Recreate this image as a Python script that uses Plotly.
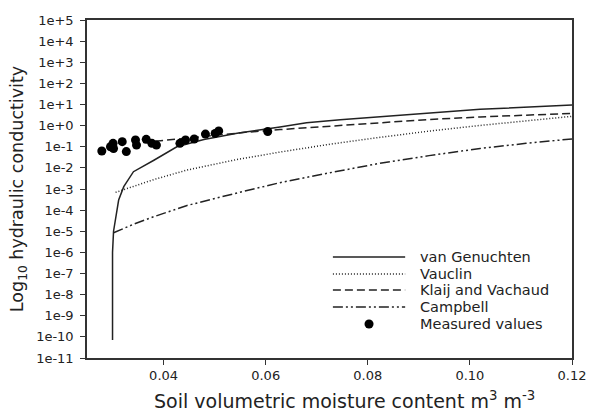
import plotly.graph_objects as go

# ---- data ----
vg_x = [0.0300, 0.0300, 0.0302, 0.0306, 0.0312, 0.0322, 0.0341, 0.0381, 0.0426, 0.0479, 0.0544, 0.0628, 0.0680, 0.0746, 0.0889, 0.1020, 0.1200]
vg_k = [7.1e-11, 1e-6, 1e-5, 4.9e-5, 3.0e-4, 1.29e-3, 6.6e-3, 2.3e-2, 0.10, 0.22, 0.44, 0.87, 1.38, 1.9, 3.55, 5.9, 9.5]

vau_x = [0.0306, 0.0340, 0.0381, 0.0446, 0.0544, 0.0628, 0.0726, 0.0824, 0.0920, 0.1020, 0.1110, 0.1200]
vau_k = [6.9e-4, 1.32e-3, 2.8e-3, 7.9e-3, 2.5e-2, 5.6e-2, 0.132, 0.28, 0.55, 1.02, 1.74, 2.75]

kv_x = [0.0360, 0.0430, 0.0500, 0.0560, 0.0628, 0.0726, 0.0824, 0.0920, 0.1020, 0.1110, 0.1200]
kv_k = [0.16, 0.24, 0.355, 0.48, 0.65, 0.95, 1.41, 1.95, 2.57, 3.16, 3.8]

camp_x = [0.0302, 0.0340, 0.0381, 0.0446, 0.0544, 0.0628, 0.0726, 0.0824, 0.0920, 0.1020, 0.1110, 0.1200]
camp_k = [8.5e-6, 2.09e-5, 4.9e-5, 1.66e-4, 6.5e-4, 2.0e-3, 5.9e-3, 1.66e-2, 3.8e-2, 8.3e-2, 0.145, 0.234]

meas_x = [0.0279, 0.0296, 0.0301, 0.0302, 0.0319, 0.0327, 0.0345, 0.0347, 0.0366, 0.0377,
          0.0386, 0.0432, 0.0443, 0.0460, 0.0482, 0.0501, 0.0508, 0.0604]
meas_k = [0.063, 0.10, 0.145, 0.083, 0.174, 0.059, 0.209, 0.120, 0.224, 0.145,
          0.120, 0.145, 0.209, 0.234, 0.398, 0.427, 0.562, 0.525]

series_names = ["van Genuchten", "Vauclin", "Klaij and Vachaud", "Campbell", "Measured values"]

y_tick_vals = [1e5, 1e4, 1e3, 1e2, 1e1, 1e0, 1e-1, 1e-2, 1e-3, 1e-4, 1e-5, 1e-6, 1e-7, 1e-8, 1e-9, 1e-10, 1e-11]
y_tick_text = ["1e+5", "1e+4", "1e+3", "1e+2", "1e+1", "1e+0", "1e-1", "1e-2", "1e-3", "1e-4",
               "1e-5", "1e-6", "1e-7", "1e-8", "1e-9", "1e-10", "1e-11"]
x_tick_vals = [0.04, 0.06, 0.08, 0.10, 0.12]
x_tick_text = ["0.04", "0.06", "0.08", "0.10", "0.12"]

x_title = "Soil volumetric moisture content m<sup>3</sup> m<sup>-3</sup>"
y_title = "Log<sub>10</sub> hydraulic conductivity"

# ---- styles ----
INK = "#222222"
FONT = "DejaVu Sans, Liberation Sans, Arial, sans-serif"
line_styles = [
    dict(color=INK, width=1.5),
    dict(color=INK, width=1.5, dash="1px,2px"),
    dict(color=INK, width=1.5, dash="8px,4px"),
    dict(color=INK, width=1.5, dash="10px,3px,2px,3px,2px,3px"),
]

fig = go.Figure()
for (xs, ys), name, ls in zip([(vg_x, vg_k), (vau_x, vau_k), (kv_x, kv_k), (camp_x, camp_k)],
                              series_names[:4], line_styles):
    fig.add_trace(go.Scatter(x=xs, y=ys, mode="lines", name=name, line=ls, showlegend=False))
fig.add_trace(go.Scatter(x=meas_x, y=meas_k, mode="markers", name=series_names[4],
                         marker=dict(color="black", size=9, line=dict(width=0)), showlegend=False))

axis_common = dict(showline=True, linecolor="#333333", linewidth=1.5, mirror=True,
                   ticks="outside", ticklen=5, tickwidth=1.2, tickcolor="#333333",
                   showgrid=False, zeroline=False, automargin=False,
                   tickfont=dict(size=13, color=INK, family=FONT))

fig.update_xaxes(range=[0.025, 0.12], tickvals=x_tick_vals, ticktext=x_tick_text, **axis_common)
fig.update_yaxes(type="log", range=[-11, 5], tickvals=y_tick_vals, ticktext=y_tick_text,
                 ticklabelstandoff=4, **axis_common)

# ---- legend (key drawn in paper space, lower right) ----
key_x0, key_x1, key_text_x = 0.507, 0.656, 0.682
key_rows = [0.299, 0.2485, 0.201, 0.151, 0.1006]
shapes = []
annotations = []
for i, name in enumerate(series_names):
    yy = key_rows[i]
    if i < 4:
        shapes.append(dict(type="line", xref="paper", yref="paper",
                           x0=key_x0, x1=key_x1, y0=yy, y1=yy, line=line_styles[i]))
    else:
        cx = (key_x0 + key_x1) / 2
        shapes.append(dict(type="circle", xref="paper", yref="paper",
                           x0=cx - 0.0093, x1=cx + 0.0093, y0=yy - 0.0133, y1=yy + 0.0133,
                           fillcolor="black", line=dict(width=0)))
    annotations.append(dict(xref="paper", yref="paper", x=key_text_x, y=yy, text=name,
                            showarrow=False, xanchor="left", yanchor="middle",
                            font=dict(size=14.5, color=INK, family=FONT)))

# axis titles
annotations.append(dict(xref="paper", yref="paper", x=0.53, y=-0.124, text=x_title,
                        showarrow=False, xanchor="center", yanchor="middle",
                        font=dict(size=19, color=INK, family=FONT)))
annotations.append(dict(xref="paper", yref="paper", x=-0.142, y=0.5, text=y_title,
                        showarrow=False, xanchor="center", yanchor="middle", textangle=-90,
                        font=dict(size=17.5, color=INK, family=FONT)))

fig.update_layout(
    width=590, height=416,
    margin=dict(l=87, r=18, t=20, b=58),
    paper_bgcolor="white", plot_bgcolor="white",
    font=dict(family=FONT, color=INK),
    showlegend=False,
    shapes=shapes, annotations=annotations,
)

fig.write_html("out.html", config={"displayModeBar": False},
               post_script="document.body.style.margin='0px';document.body.style.overflow='hidden';")
